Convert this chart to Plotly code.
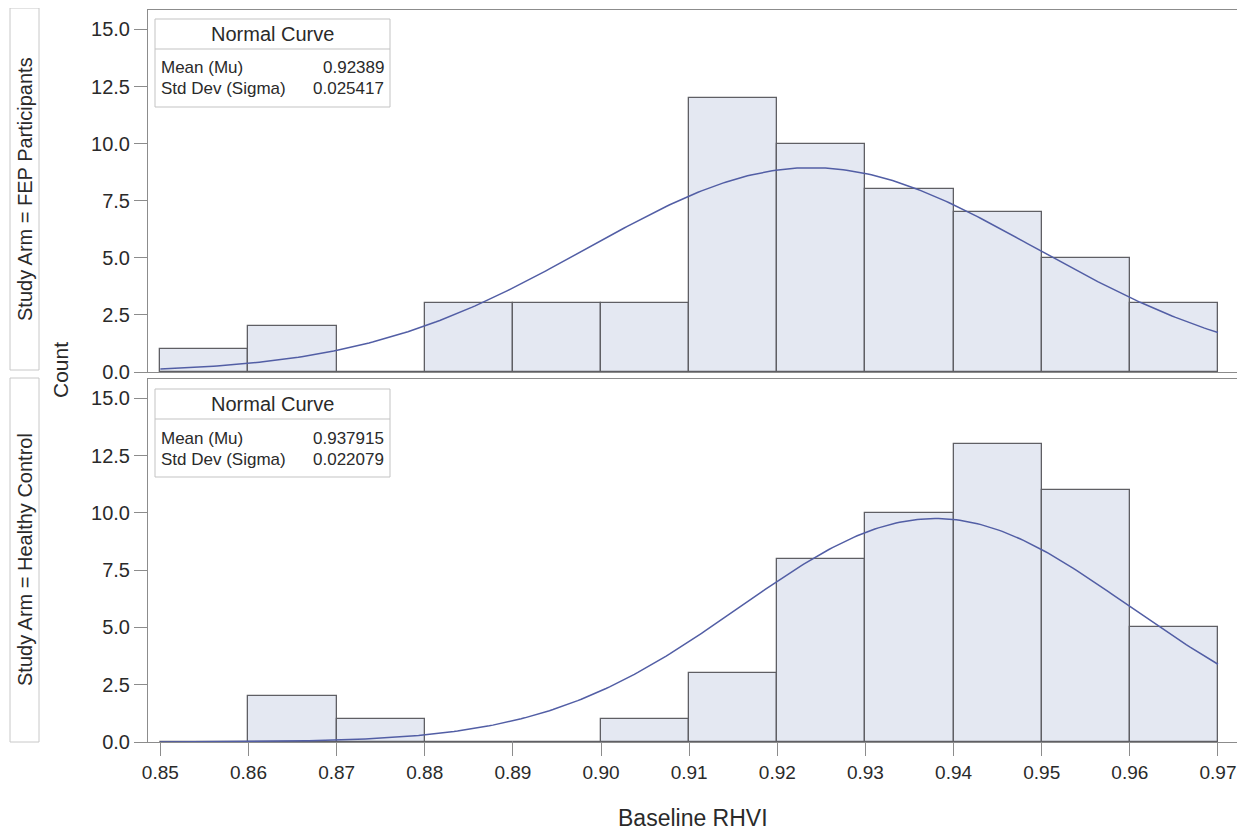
import numpy as np
import plotly.graph_objects as go
from plotly.subplots import make_subplots

bin_starts = [0.85, 0.86, 0.87, 0.88, 0.89, 0.90, 0.91, 0.92, 0.93, 0.94, 0.95, 0.96]
bin_width = 0.01
fep_counts = [1, 2, 0, 3, 3, 3, 12, 10, 8, 7, 5, 3]
hc_counts = [0, 2, 1, 0, 0, 1, 3, 8, 10, 13, 11, 5]
fep_mean, fep_sd = 0.92389, 0.025417
hc_mean, hc_sd = 0.937915, 0.022079
fep_mean_txt, fep_sd_txt = "0.92389", "0.025417"
hc_mean_txt, hc_sd_txt = "0.937915", "0.022079"
strip_labels = ["Study Arm = FEP Participants", "Study Arm = Healthy Control"]
x_ticks = [0.85, 0.86, 0.87, 0.88, 0.89, 0.90, 0.91, 0.92, 0.93, 0.94, 0.95, 0.96, 0.97]
y_ticks = [0, 2.5, 5, 7.5, 10, 12.5, 15]

BAR_FILL = "rgb(228,232,242)"
BAR_LINE = "rgb(95,95,100)"
CURVE = "rgb(82,94,165)"
FRAME = "rgb(140,140,140)"
TXT = "#2a2a2a"
FONT = "Liberation Sans, Arial, sans-serif"

OFF = 8  # page body margin
W, H = 1245 - OFF, 831 - OFF
# target plot area in page pixels
PL, PR, PT, PB = 148, 1238, 10, 742
ml, mr, mt, mb = PL - OFF, W - (PR - OFF), PT - OFF, H - (PB - OFF)
pw, ph = W - ml - mr, H - mt - mb

def py(pix):  # page y -> paper fraction
    return ((PB) - pix) / ph

def px(pix):  # page x -> paper fraction
    return (pix - PL) / pw

fig = make_subplots(rows=2, cols=1, shared_xaxes=True, vertical_spacing=0.0)

centers = [b + bin_width / 2 for b in bin_starts]
xs = np.linspace(0.85, 0.97, 300)
for row, counts, mu, sd in [(1, fep_counts, fep_mean, fep_sd), (2, hc_counts, hc_mean, hc_sd)]:
    fig.add_trace(go.Bar(x=centers, y=counts, width=bin_width,
                         marker=dict(color=BAR_FILL, line=dict(color=BAR_LINE, width=1.3)),
                         showlegend=False, hoverinfo="x+y"), row=row, col=1)
    n = sum(counts)
    dens = n * bin_width / (sd * np.sqrt(2 * np.pi)) * np.exp(-0.5 * ((xs - mu) / sd) ** 2)
    fig.add_trace(go.Scatter(x=xs, y=dens, mode="lines", line=dict(color=CURVE, width=1.5),
                             showlegend=False), row=row, col=1)

xrange = [0.8486, 0.97227]
common_y = dict(range=[0, 15.85], tickvals=y_ticks, ticktext=[f"{v:.1f}" for v in y_ticks],
                ticks="outside", ticklen=13, tickcolor=FRAME, showgrid=False, zeroline=False,
                showline=True, linecolor=FRAME, mirror=True, linewidth=1,
                tickfont=dict(family=FONT, size=20, color=TXT))
fig.update_layout(
    width=W, height=H, margin=dict(l=ml, r=mr, t=mt, b=mb, autoexpand=False),
    plot_bgcolor="white", paper_bgcolor="white", bargap=0,
    yaxis=dict(domain=[py(372), 1.0], **common_y),
    yaxis2=dict(domain=[0.0, py(379)], **common_y),
    xaxis=dict(range=xrange, showticklabels=False, ticks="", showgrid=False, zeroline=False,
               showline=True, linecolor=FRAME, mirror=True),
    xaxis2=dict(range=xrange, tickvals=x_ticks, ticktext=[f"{v:.2f}" for v in x_ticks],
                ticks="outside", ticklen=13, tickcolor=FRAME, showgrid=False, zeroline=False,
                showline=True, linecolor=FRAME, mirror=True,
                tickfont=dict(family=FONT, size=19, color=TXT)),
)

shapes = []
annotations = []
# strips
for (top, bot), label in zip([(8, 370), (378, 742)], strip_labels):
    shapes.append(dict(type="rect", xref="paper", yref="paper", x0=px(10), x1=px(39),
                       y0=py(bot), y1=py(top), line=dict(color="rgb(200,200,200)", width=1),
                       fillcolor="white", layer="below"))
    annotations.append(dict(xref="paper", yref="paper", x=px(25), y=py((top + bot) / 2),
                            xanchor="center", yanchor="middle",
                            text=label, textangle=-90, showarrow=False,
                            font=dict(family=FONT, size=20, color=TXT)))
annotations.append(dict(xref="paper", yref="paper", x=px(60), y=py(370), text="Count",
                        xanchor="center", yanchor="middle",
                        textangle=-90, showarrow=False, font=dict(family=FONT, size=21, color=TXT)))
annotations.append(dict(xref="paper", yref="paper", x=px(693), y=py(818), text="Baseline RHVI",
                        xanchor="center", yanchor="middle",
                        showarrow=False, font=dict(family=FONT, size=23, color=TXT)))

# inset tables
for top, mtxt, stxt in [(19, fep_mean_txt, fep_sd_txt), (389, hc_mean_txt, hc_sd_txt)]:
    x0, x1 = 155, 390
    shapes.append(dict(type="rect", xref="paper", yref="paper", x0=px(x0), x1=px(x1),
                       y0=py(top + 88), y1=py(top), line=dict(color="rgb(195,195,195)", width=1),
                       fillcolor="white"))
    shapes.append(dict(type="line", xref="paper", yref="paper", x0=px(x0), x1=px(x1),
                       y0=py(top + 30), y1=py(top + 30), line=dict(color="rgb(195,195,195)", width=1)))
    annotations.append(dict(xref="paper", yref="paper", x=px((x0 + x1) / 2), y=py(top + 15),
                            text="Normal Curve", showarrow=False, xanchor="center", yanchor="middle",
                            font=dict(family=FONT, size=20, color=TXT)))
    for dy, lab, val in [(49, "Mean (Mu)", mtxt), (70, "Std Dev (Sigma)", stxt)]:
        annotations.append(dict(xref="paper", yref="paper", x=px(x0 + 4), y=py(top + dy),
                                text=lab, showarrow=False, xanchor="left", yanchor="middle",
                                font=dict(family=FONT, size=17, color=TXT)))
        annotations.append(dict(xref="paper", yref="paper", x=px(x1 - 4), y=py(top + dy),
                                text=val, showarrow=False, xanchor="right", yanchor="middle",
                                font=dict(family=FONT, size=17, color=TXT)))

fig.update_layout(shapes=shapes, annotations=annotations)
fig.write_html("out.html")
